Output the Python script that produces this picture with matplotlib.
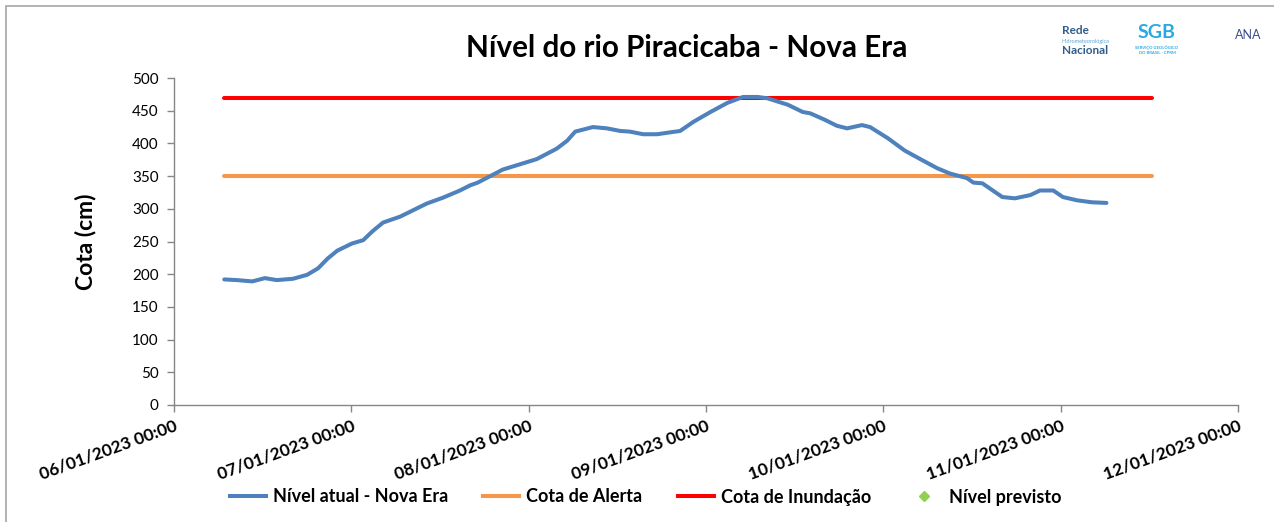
import matplotlib
matplotlib.use('Agg')
import matplotlib.pyplot as plt
import matplotlib.dates as mdates
from matplotlib.patches import Rectangle
from matplotlib.lines import Line2D
import numpy as np

# ── DADOS ─────────────────────────────────────────────
T0 = np.datetime64('2023-01-06T00:00')

# horas contadas a partir de 06/01/2023 00:00
nivel_horas = [6.8, 8.5, 10.6, 12.3, 13.9, 16.1, 18.0, 19.5, 20.8, 22.1,
               24.1, 25.6, 26.9, 28.3, 30.6, 32.4, 34.2, 36.4, 38.7, 40.1,
               41.1, 42.8, 44.5, 46.8, 49.1, 51.8, 53.2, 54.3, 56.7, 58.6,
               60.4, 61.7, 63.5, 65.4, 67.2, 68.5, 70.3, 72.6, 74.9, 77.0,
               79.0, 80.3, 83.1, 85.1, 86.1, 88.1, 89.7, 91.1, 93.1, 94.2,
               96.6, 98.9, 101.0, 103.3, 105.0, 107.3, 108.2, 109.4, 112.1, 113.8,
               115.9, 117.2, 119.0, 120.3, 122.2, 124.2, 126.2]
nivel_cm = [192, 191, 189, 194, 191, 193, 199, 209, 224, 236,
            247, 252, 266, 279, 288, 298, 308, 317, 328, 336,
            340, 350, 360, 368, 376, 392, 404, 418, 425, 423,
            419, 418, 414, 414, 417, 419, 433, 448, 462, 471,
            471, 469, 459, 448, 446, 436, 427, 423, 428, 425,
            408, 389, 376, 362, 354, 347, 340, 339, 318, 316,
            321, 328, 328, 318, 313, 310, 309]

cota_horas = [6.8, 132.4]
cota_alerta = [350, 350]
cota_inundacao = [470, 470]

# ── ESTILO ────────────────────────────────────────────
COLOR_NIVEL    = "#4F81BD"
COLOR_ALERTA   = "#F79646"
COLOR_INUNDA   = "#FF0000"
COLOR_PREVISTO = "#92D050"
COLOR_AXIS     = "#868686"
COLOR_BORDER   = "#A6A6A6"
LW = 2.9

plt.rcParams['font.family'] = ['Lato', 'DejaVu Sans']

W, H = 1274, 522

def to_dates(horas):
    return [T0 + np.timedelta64(int(round(h * 60)), 'm') for h in horas]

fig = plt.figure(figsize=(W / 100, H / 100), dpi=100, facecolor='white')
ax = fig.add_axes([174 / W, 1 - 405 / H, (1238 - 174) / W, (405 - 78) / H])

ax.plot(to_dates(cota_horas), cota_alerta, color=COLOR_ALERTA, lw=LW,
        solid_capstyle='round')
ax.plot(to_dates(cota_horas), cota_inundacao, color=COLOR_INUNDA, lw=LW,
        solid_capstyle='round')
ax.plot(to_dates(nivel_horas), nivel_cm, color=COLOR_NIVEL, lw=LW,
        solid_capstyle='round', solid_joinstyle='round')

# eixos
ax.set_xlim(np.datetime64('2023-01-06T00:00'), np.datetime64('2023-01-12T00:00'))
ax.set_ylim(0, 500)
ax.set_yticks(np.arange(0, 501, 50))
ax.xaxis.set_major_locator(mdates.DayLocator())
ax.xaxis.set_major_formatter(mdates.DateFormatter('%d/%m/%Y %H:%M'))

for s in ['top', 'right']:
    ax.spines[s].set_visible(False)
for s in ['left', 'bottom']:
    ax.spines[s].set_color(COLOR_AXIS)
    ax.spines[s].set_linewidth(1.0)

ax.tick_params(axis='both', color=COLOR_AXIS, length=5, width=1.0, direction='out')
ax.tick_params(axis='y', labelsize=11, pad=6)
ax.tick_params(axis='x', labelsize=12.5, pad=4)
for lbl in ax.get_xticklabels():
    lbl.set_rotation(20)
    lbl.set_ha('right')
    lbl.set_rotation_mode('anchor')
    lbl.set_fontweight('bold')

ax.set_ylabel("Cota (cm)", fontsize=16.5, fontweight='bold', labelpad=26)

# título
fig.text(687 / W, 1 - 48 / H, "Nível do rio Piracicaba - Nova Era",
         fontsize=21.3, fontweight='bold', ha='center', va='center')

# legenda (um item por posição, como no original)
itens = [
    (Line2D([], [], color=COLOR_NIVEL, lw=LW), "Nível atual - Nova Era", 230),
    (Line2D([], [], color=COLOR_ALERTA, lw=LW), "Cota de Alerta", 483),
    (Line2D([], [], color=COLOR_INUNDA, lw=LW), "Cota de Inundação", 678),
    (Line2D([], [], color=COLOR_PREVISTO, lw=0, marker='D', markersize=5.5),
     "Nível previsto", 906),
]
for handle, label, x0 in itens:
    fig.legend([handle], [label], loc='center left',
               bbox_to_anchor=(x0 / W, 1 - 497 / H),
               frameon=False, prop={'weight': 'bold', 'size': 13},
               handlelength=2.0, handletextpad=0.4,
               borderpad=0, borderaxespad=0)

# logos (texto)
fig.text(1062 / W, 1 - 30 / H, "Rede", fontsize=8.5, fontweight='bold',
         color="#2E5C8A", ha='left', va='center')
fig.text(1062 / W, 1 - 41 / H, "Hidrometeorológica", fontsize=4,
         color="#5BA4D9", ha='left', va='center')
fig.text(1062 / W, 1 - 51 / H, "Nacional", fontsize=8.5, fontweight='bold',
         color="#2E5C8A", ha='left', va='center')
fig.text(1157 / W, 1 - 33 / H, "SGB", fontsize=14, fontweight='bold',
         color="#29A9E1", ha='center', va='center')
fig.text(1157 / W, 1 - 50 / H, "SERVIÇO GEOLÓGICO\nDO BRASIL - CPRM", fontsize=3,
         fontweight='bold', color="#29A9E1", ha='center', va='center', linespacing=1.2)
fig.text(1248 / W, 1 - 35 / H, "ANA", fontsize=9, color="#3A4E8C",
         ha='center', va='center')

# borda
fig.patches.append(Rectangle((6 / W, -0.01), 1.02, 1 - 6 / H + 0.01,
                             transform=fig.transFigure, fill=False,
                             edgecolor=COLOR_BORDER, linewidth=1.2))

plt.savefig("out.png", dpi=100, facecolor='white')
plt.close()
